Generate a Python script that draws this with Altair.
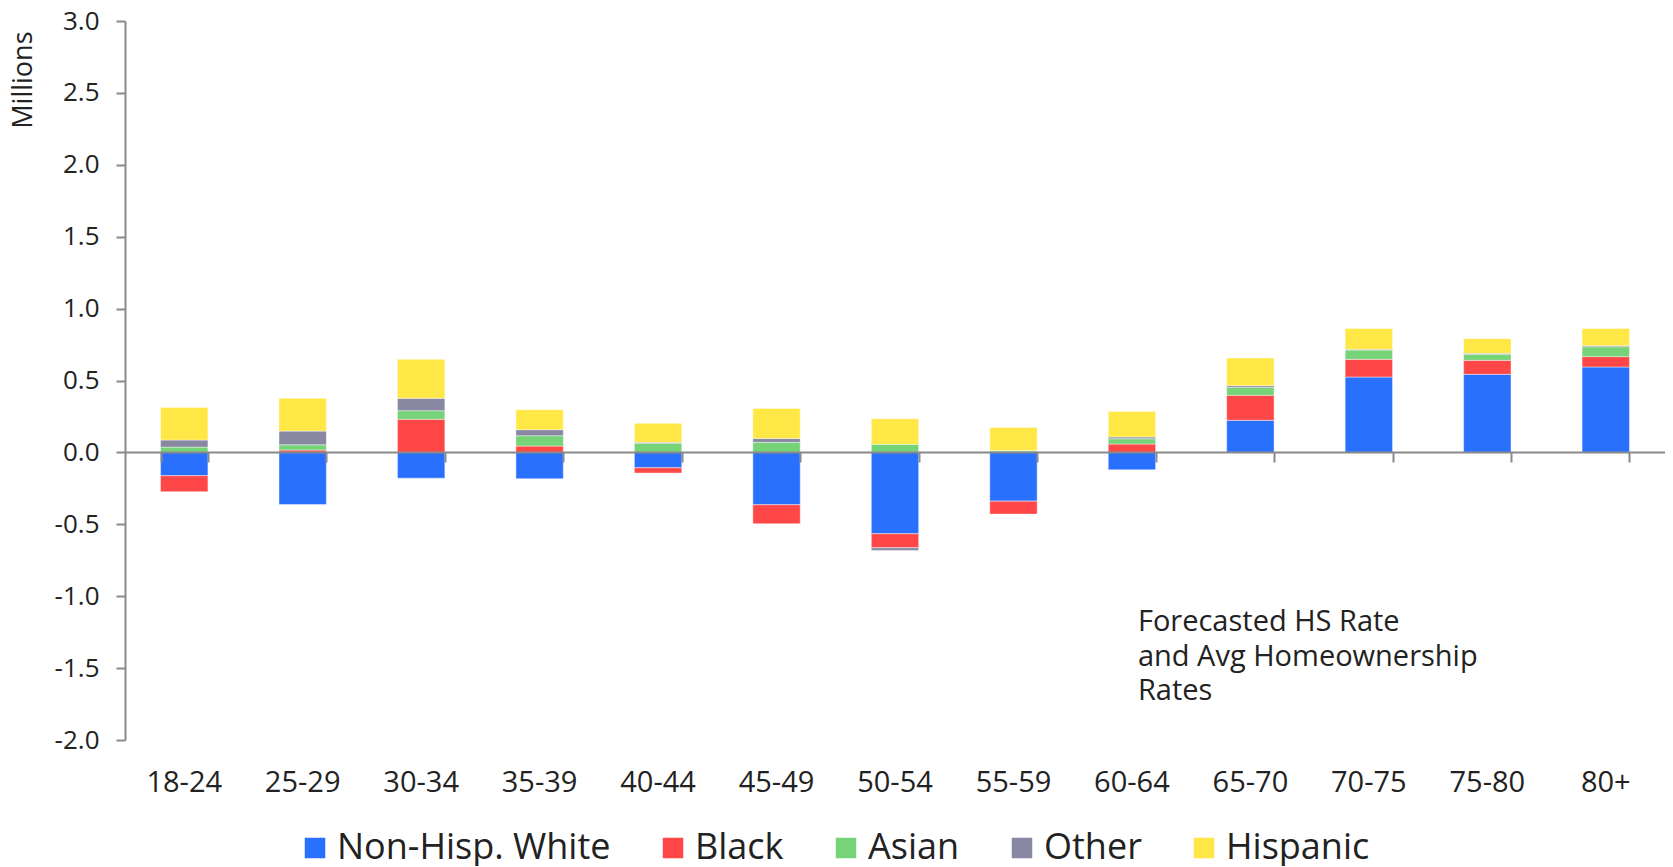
import altair as alt
import pandas as pd

categories = ["18-24", "25-29", "30-34", "35-39", "40-44", "45-49", "50-54",
              "55-59", "60-64", "65-70", "70-75", "75-80", "80+"]
series = ["Non-Hisp. White", "Black", "Asian", "Other", "Hispanic"]
colors = ["#2970FF", "#FF4747", "#77D377", "#8888A3", "#FFE845"]

white = [-0.162, -0.362, -0.179, -0.183, -0.107, -0.364, -0.566, -0.339, -0.121, 0.223, 0.524, 0.543, 0.594]
black = [-0.111, 0.016, 0.230, 0.044, -0.037, -0.132, -0.097, -0.090, 0.058, 0.174, 0.123, 0.097, 0.072]
asian = [0.037, 0.037, 0.060, 0.072, 0.063, 0.070, 0.056, 0.011, 0.037, 0.055, 0.065, 0.042, 0.069]
other = [0.049, 0.095, 0.086, 0.042, 0.007, 0.027, -0.019, 0.003, 0.012, 0.012, 0.005, 0.007, 0.007]
hispanic = [0.227, 0.228, 0.271, 0.139, 0.132, 0.209, 0.178, 0.160, 0.178, 0.193, 0.144, 0.102, 0.119]

y_ticks = [-2.0, -1.5, -1.0, -0.5, 0.0, 0.5, 1.0, 1.5, 2.0, 2.5, 3.0]
note_lines = ["Forecasted HS Rate", "and Avg Homeownership", "Rates"]
note_cat = ["60-64"]
note_y = [-1.245]

rows = []
for si, (name, vals) in enumerate(zip(series, [white, black, asian, other, hispanic])):
    for c, v in zip(categories, vals):
        rows.append({"age": c, "group": name, "value": v, "idx": si})
df = pd.DataFrame(rows)
note_df = pd.DataFrame({"age": note_cat, "v": note_y, "t": [note_lines]})
lab_df = pd.DataFrame({"age": categories})

FONT = "Open Sans"
GRAY = "#898989"
TXT = "#222222"

xscale = alt.Scale(domain=categories, paddingInner=0.6, paddingOuter=0.3)
yscale = alt.Scale(domain=[-2, 3], nice=False, zero=False)

bars = alt.Chart(df).mark_bar(stroke="white", strokeWidth=0.6, strokeOpacity=0.7).encode(
    x=alt.X("age:N", sort=categories, scale=xscale,
            axis=alt.Axis(orient="bottom", offset=-288, labels=False, title=None,
                          domainColor=GRAY, domainWidth=2, tickColor=GRAY, tickWidth=2,
                          tickSize=10, tickBand="extent", zindex=1, grid=False)),
    y=alt.Y("value:Q", stack="zero", scale=yscale,
            axis=alt.Axis(values=y_ticks, labelExpr="replace(format(datum.value, '.1f'), '\u2212', '-')",
                          title="Millions", titleFontSize=27, titleFont=FONT, titleFontWeight="normal",
                          titleColor=TXT, titleAngle=-90, titleAlign="right", titleBaseline="middle",
                          titleX=-102, titleY=10,
                          labelFontSize=26, labelFont=FONT, labelColor=TXT, labelPadding=17,
                          domainColor=GRAY, domainWidth=2, tickColor=GRAY, tickWidth=2,
                          tickSize=9, grid=False)),
    color=alt.Color("group:N", sort=series, scale=alt.Scale(domain=series, range=colors),
                    legend=alt.Legend(orient="none", legendX=172, legendY=809, direction="horizontal",
                                      title=None, symbolType="square", symbolSize=420,
                                      symbolStrokeWidth=0, labelFontSize=36, labelFont=FONT,
                                      labelColor=TXT, columnPadding=44, labelOffset=4,
                                      labelLimit=0)),
    order=alt.Order("idx:Q"),
)

labels = alt.Chart(lab_df).mark_point(opacity=0).encode(
    x=alt.X("age:N", sort=categories, scale=xscale,
            axis=alt.Axis(orient="bottom", domain=False, ticks=False, tickSize=0, title=None,
                          labelAngle=0, labelFontSize=29, labelFont=FONT, labelColor=TXT,
                          labelPadding=28, grid=False)),
)

note = alt.Chart(note_df).mark_text(align="left", baseline="alphabetic", fontSize=29, font=FONT,
                                    color=TXT, lineHeight=34.5, dx=6).encode(
    x=alt.X("age:N", sort=categories, scale=xscale, axis=None),
    y=alt.Y("v:Q", scale=yscale),
    text="t",
)

chart = alt.layer(bars, labels, note).resolve_axis(x="independent").properties(
    width=1540, height=719,
    padding={"left": 0, "top": 0, "right": 0, "bottom": 0},
).configure(font=FONT).configure_view(stroke=None)

chart.save("out.html", embed_options={"renderer": "svg", "actions": False})
